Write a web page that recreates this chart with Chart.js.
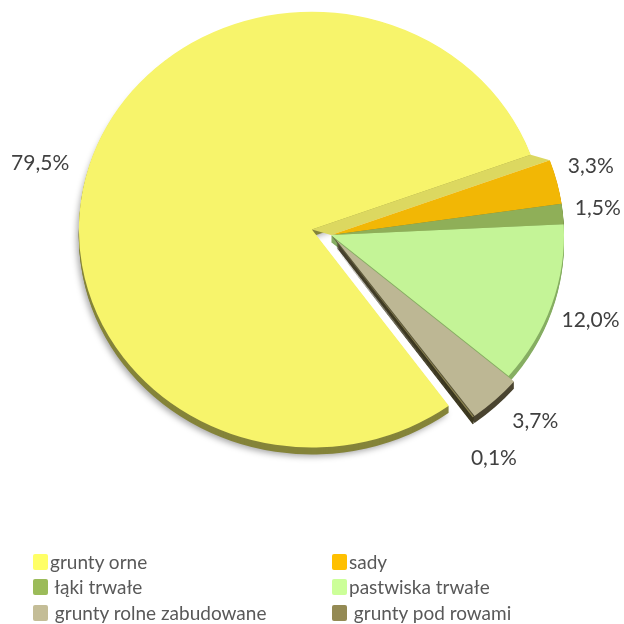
<!DOCTYPE html>
<html>
<head>
<meta charset="utf-8">
<script src="https://cdn.jsdelivr.net/npm/chart.js@4.4.1/dist/chart.umd.min.js"></script>
<style>
  html, body { margin: 0; padding: 0; background: #ffffff; }
  #wrap { position: relative; width: 624px; height: 624px; }
  #c { position: absolute; left: 0; top: 0; }
  #legend { position: absolute; left: 0; top: 0; width: 624px; height: 624px; pointer-events: none;
            font-family: Lato, "Noto Sans", sans-serif; font-size: 19px; color: #595959; }
  .li { position: absolute; height: 24px; line-height: 24px; white-space: pre; }
  .box { position: absolute; left: 0; top: 4px; width: 15px; height: 16px; border-radius: 2px; }
  .txt { position: absolute; left: 17px; top: 0; }
</style>
</head>
<body>
<div id="wrap">
  <canvas id="c" width="624" height="624"></canvas>
  <div id="legend"></div>
</div>
<script>
// ---- data ----
const categories = ["grunty orne", "sady", " łąki trwałe", "pastwiska trwałe", " grunty rolne zabudowane", " grunty pod rowami"];
const shares = [79.5, 3.3, 1.5, 12.0, 3.7, 0.1];
const sliceColors = ["#F7F46B", "#F2B705", "#8FAF58", "#C4F497", "#BDB794", "#8B8350"];
const legendColors = ["#FFFF66", "#FFC000", "#9BBB59", "#CCFF99", "#C4BD97", "#948A54"];
const depthColors = ["#85843A", "#A87E00", "#667F38", "#86AE62", "#4A4430", "#3C3820"];
const faceColors = ["#DCD860", null, null, null, "#5E5A3C", "#3C3820"];
const explode = [20, 0, 0, 0, 8, 8];

const KY = 0.935;     // perspective squash
const DEPTH = 7;      // thickness of the 3D rim

function fmt(v) { return v.toFixed(1).replace('.', ',') + '%'; }

function center(chart) {
  const a = chart.chartArea;
  return { cx: (a.left + a.right) / 2, cy: (a.top + a.bottom) / 2 };
}

function displacement(arc, i) {
  const p = arc.getProps(['startAngle', 'endAngle']);
  const mid = (p.startAngle + p.endAngle) / 2;
  return { dx: Math.cos(mid) * explode[i], dy: Math.sin(mid) * explode[i] };
}

function squash(ctx, cx, cy) {
  ctx.translate(cx, cy); ctx.scale(1, KY); ctx.translate(-cx, -cy);
}

const pie3d = {
  id: 'pie3d',
  beforeDatasetDraw(chart, args) {
    const ctx = chart.ctx;
    const { cx, cy } = center(chart);
    const meta = args.meta;
    ctx.save();
    squash(ctx, cx, cy);
    // rim
    meta.data.forEach((arc, i) => {
      const p = arc.getProps(['x', 'y', 'startAngle', 'endAngle', 'outerRadius']);
      const { dx, dy } = displacement(arc, i);
      for (let d = DEPTH; d >= 1; d--) {
        ctx.save();
        if (d === DEPTH && i === 0) {
          ctx.shadowColor = 'rgba(0,0,0,0.35)';
          ctx.shadowBlur = 6;
          ctx.shadowOffsetX = -2;
          ctx.shadowOffsetY = 2;
        }
        ctx.translate(dx, dy + d / KY);
        ctx.beginPath();
        ctx.moveTo(p.x, p.y);
        ctx.arc(p.x, p.y, p.outerRadius, p.startAngle, p.endAngle);
        ctx.closePath();
        ctx.fillStyle = depthColors[i];
        ctx.fill();
        ctx.restore();
      }
    });
    // cut faces along the trailing edge of exploded slices
    meta.data.forEach((arc, i) => {
      if (!faceColors[i] || !explode[i]) return;
      const p = arc.getProps(['x', 'y', 'startAngle', 'endAngle', 'outerRadius']);
      const { dx, dy } = displacement(arc, i);
      const ex = Math.cos(p.endAngle) * p.outerRadius, ey = Math.sin(p.endAngle) * p.outerRadius;
      ctx.beginPath();
      ctx.moveTo(p.x + dx, p.y + dy);
      ctx.lineTo(p.x + dx + ex, p.y + dy + ey);
      ctx.lineTo(p.x + ex, p.y + ey);
      ctx.lineTo(p.x, p.y);
      ctx.closePath();
      ctx.fillStyle = faceColors[i];
      ctx.fill();
    });
    // top faces: the library's own arc elements, displaced
    meta.data.forEach((arc, i) => {
      const { dx, dy } = displacement(arc, i);
      ctx.save();
      ctx.translate(dx, dy);
      arc.draw(ctx, chart.chartArea);
      ctx.restore();
    });
    ctx.restore();
    return false;
  },
  afterDatasetsDraw(chart) {
    const ctx = chart.ctx;
    const { cx, cy } = center(chart);
    const meta = chart.getDatasetMeta(0);
    ctx.save();
    ctx.font = '21px Lato, "Noto Sans", sans-serif';
    ctx.fillStyle = '#404040';
    ctx.textAlign = 'center';
    ctx.textBaseline = 'middle';
    const h = 21;
    const boxes = meta.data.map((arc, i) => {
      const p = arc.getProps(['startAngle', 'endAngle', 'outerRadius']);
      const mid = (p.startAngle + p.endAngle) / 2;
      const c = Math.cos(mid), s = Math.sin(mid);
      const R = p.outerRadius + explode[i];
      const txt = fmt(shares[i]);
      const w = ctx.measureText(txt).width;
      const gx = 12 + w / 2 + (c < 0 ? 10 : 0);
      const gy = s > 0 ? 20 + h / 2 + 22 * Math.pow(s, 0.3) : 37 + 28 * c;
      return { txt, w, c, s, x: cx + c * (R + gx), y: cy + s * (R * KY + gy) };
    });
    // simple collision avoidance: push the earlier label backwards (counter-clockwise)
    for (let i = 0; i < boxes.length - 1; i++) {
      const a = boxes[i], b = boxes[i + 1];
      let guard = 0;
      while (Math.abs(a.x - b.x) < (a.w + b.w) / 2 + 4 && Math.abs(a.y - b.y) < h + 15 && guard++ < 60) {
        a.x += a.s; a.y -= a.c;
      }
    }
    boxes.forEach(b => ctx.fillText(b.txt, b.x, b.y));
    ctx.restore();
  }
};

const chart = new Chart(document.getElementById('c'), {
  type: 'pie',
  data: {
    labels: categories,
    datasets: [{
      data: shares,
      backgroundColor: sliceColors,
      borderColor: sliceColors,
      borderWidth: 0,
      clip: false
    }]
  },
  options: {
    responsive: false,
    animation: false,
    rotation: 144,
    radius: 233,
    layout: { padding: { left: 38, right: 0, top: 0, bottom: 154 } },
    plugins: { legend: { display: false }, tooltip: { enabled: false } }
  },
  plugins: [pie3d]
});

// ---- legend (HTML, two columns) ----
const legend = document.getElementById('legend');
const colX = [33, 332];
const rowY = [550, 575, 601];
categories.forEach((name, i) => {
  const el = document.createElement('div');
  el.className = 'li';
  el.style.left = colX[i % 2] + 'px';
  el.style.top = rowY[Math.floor(i / 2)] + 'px';
  const b = document.createElement('div');
  b.className = 'box';
  b.style.background = legendColors[i];
  const t = document.createElement('div');
  t.className = 'txt';
  t.textContent = name;
  el.appendChild(b); el.appendChild(t);
  legend.appendChild(el);
});
</script>
</body>
</html>
